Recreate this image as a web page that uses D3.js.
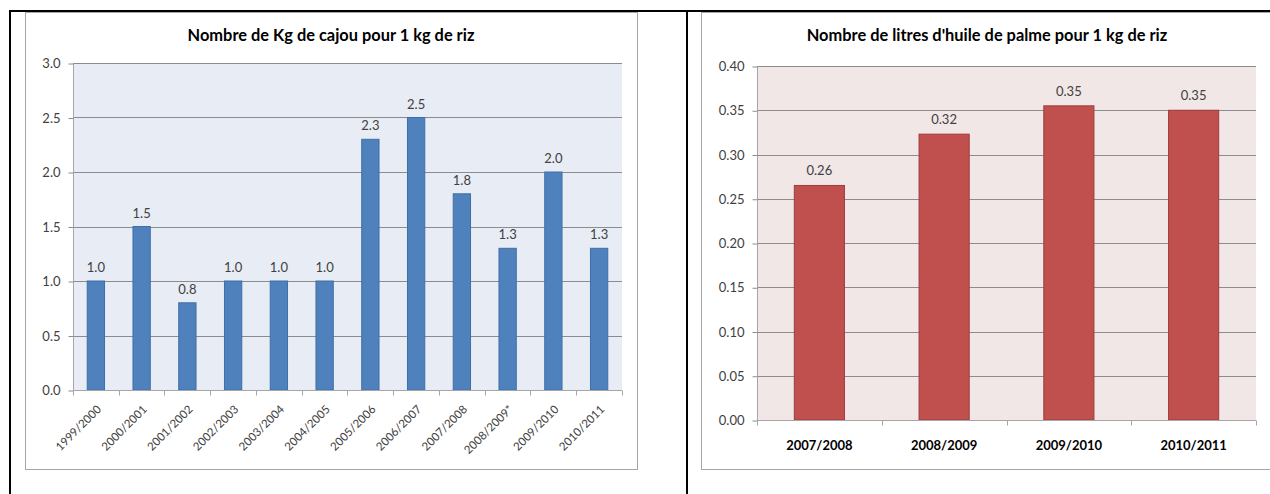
<!DOCTYPE html>
<html><head><meta charset="utf-8">
<script src="https://cdn.jsdelivr.net/npm/d3@7/dist/d3.min.js"></script>
<style>
html,body{margin:0;padding:0;background:#fff;}
svg{display:block;font-family:Lato,"Open Sans",sans-serif;}
</style></head><body>
<svg id="c" width="1270" height="494"></svg>
<script>
// ---- data ----
const cajouCategories = ["1999/2000","2000/2001","2001/2002","2002/2003","2003/2004","2004/2005","2005/2006","2006/2007","2007/2008","2008/2009*","2009/2010","2010/2011"];
const cajouValues = [1.0,1.5,0.8,1.0,1.0,1.0,2.3,2.5,1.8,1.3,2.0,1.3];
const cajouTicks = [0,0.5,1.0,1.5,2.0,2.5,3.0];
const cajouTitle = "Nombre de Kg de cajou pour 1 kg de riz";

const palmeCategories = ["2007/2008","2008/2009","2009/2010","2010/2011"];
const palmeValues = [0.265,0.323,0.355,0.35];
const palmeLabels = ["0.26","0.32","0.35","0.35"];
const palmeTicks = [0,0.05,0.10,0.15,0.20,0.25,0.30,0.35,0.40];
const palmeTitle = "Nombre de litres d'huile de palme pour 1 kg de riz";

const svg = d3.select("#c");

// outer table lines
svg.append("rect").attr("x",9).attr("y",10).attr("width",1270).attr("height",2).attr("fill","#000");
svg.append("rect").attr("x",9).attr("y",10).attr("width",2).attr("height",494).attr("fill","#000");
svg.append("rect").attr("x",686).attr("y",10).attr("width",2).attr("height",494).attr("fill","#000");

// chart frames
svg.append("rect").attr("x",25.5).attr("y",12.5).attr("width",612).attr("height",457).attr("fill","#fff").attr("stroke","#a6a6a6");
svg.append("rect").attr("x",701.5).attr("y",12.5).attr("width",580).attr("height",457).attr("fill","#fff").attr("stroke","#a6a6a6");

function drawChart(o){
  const g = svg.append("g");
  const x = d3.scaleBand().domain(o.cats).range([o.left,o.right]).paddingInner(o.pad).paddingOuter(o.pad/2);
  const y = d3.scaleLinear().domain([0,o.max]).range([o.bottom,o.top]);
  g.append("rect").attr("x",o.left).attr("y",o.top).attr("width",o.right-o.left).attr("height",o.bottom-o.top).attr("fill",o.bg);
  // gridlines
  g.append("g").selectAll("line").data(o.ticks).join("line")
    .attr("x1",o.left).attr("x2",o.right).attr("y1",d=>Math.round(y(d))+0.5).attr("y2",d=>Math.round(y(d))+0.5)
    .attr("stroke","#8c8c8c").attr("stroke-width",1);
  // y axis
  const ya = d3.axisLeft(y).tickValues(o.ticks).tickFormat(d3.format(o.fmt)).tickSize(5).tickPadding(8);
  const yg = g.append("g").attr("transform",`translate(${o.left+0.5},0.5)`).call(ya);
  yg.select(".domain").attr("stroke","#a6a6a6").attr("d",`M0,${o.top}V${o.bottom}`);
  yg.selectAll(".tick line").attr("stroke","#8c8c8c");
  yg.selectAll(".tick text").attr("fill","#404040").attr("font-size",o.yfs).attr("font-family","Lato");
  // bars
  g.append("g").selectAll("rect").data(o.vals).join("rect")
    .attr("x",(d,i)=>x(o.cats[i])+0.5).attr("width",x.bandwidth()-1)
    .attr("y",d=>y(d)).attr("height",d=>y(0)-y(d))
    .attr("fill",o.color).attr("stroke",o.stroke).attr("stroke-width",1);
  // x axis
  const xg = g.append("g").attr("transform",`translate(0,${o.bottom+0.5})`);
  xg.append("line").attr("x1",o.left).attr("x2",o.right).attr("stroke","#a6a6a6");
  const edges = o.cats.map(c=>x(c)-x.step()*o.pad/2).concat([o.right]);
  xg.selectAll("line.t").data(edges).join("line").attr("class","t")
    .attr("x1",d=>Math.round(d)+0.5).attr("x2",d=>Math.round(d)+0.5).attr("y1",0).attr("y2",5).attr("stroke","#a6a6a6");
  // data labels
  g.append("g").selectAll("text").data(o.vals).join("text")
    .attr("x",(d,i)=>x(o.cats[i])+x.bandwidth()/2).attr("y",d=>y(d)-o.labOff)
    .attr("text-anchor","middle").attr("fill","#404040").attr("font-size",o.yfs)
    .text((d,i)=>o.labels[i]);
  // title
  g.append("text").attr("x",o.tx).attr("y",o.ty).attr("text-anchor","middle")
    .attr("font-weight","bold").attr("font-size",o.tfs).attr("fill","#000").text(o.title);
  return {x,y,g};
}

// left chart
const L = drawChart({cats:cajouCategories, vals:cajouValues, labels:cajouValues.map(d=>d.toFixed(1)),
  ticks:cajouTicks, max:3, fmt:".1f", left:73, right:622, top:63, bottom:390, pad:0.6,
  bg:"#e8ecf4", color:"#4f81bd", stroke:"#3f6fa8", yfs:"13px", labOff:9,
  title:cajouTitle, tx:331, ty:41, tfs:"16.4px"});
L.g.append("g").selectAll("text").data(cajouCategories).join("text")
  .attr("transform",d=>`translate(${L.x(d)+L.x.bandwidth()/2+6},${410}) rotate(-45)`)
  .attr("text-anchor","end").attr("font-size","11.5px").attr("fill","#404040").text(d=>d);

// right chart
const R = drawChart({cats:palmeCategories, vals:palmeValues, labels:palmeLabels,
  ticks:palmeTicks, max:0.4, fmt:".2f", left:757, right:1256, top:66, bottom:420, pad:0.59,
  bg:"#f2e7e7", color:"#c0504d", stroke:"#a03c3a", yfs:"13px", labOff:10,
  title:palmeTitle, tx:987, ty:41, tfs:"16.4px"});
R.g.append("g").selectAll("text").data(palmeCategories).join("text")
  .attr("x",d=>R.x(d)+R.x.bandwidth()/2).attr("y",450)
  .attr("text-anchor","middle").attr("font-size","13px").attr("font-weight","bold").attr("fill","#000").text(d=>d);
</script>
</body></html>
